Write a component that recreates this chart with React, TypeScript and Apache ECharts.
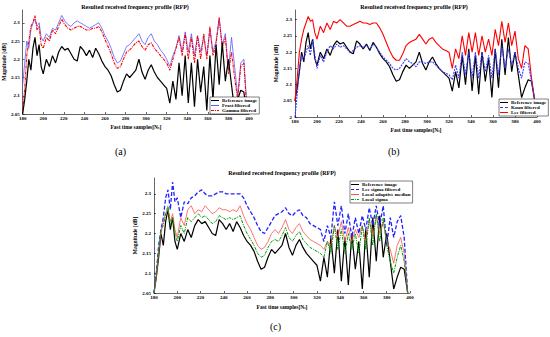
import React, { useEffect, useRef } from "react";
import * as echarts from "echarts";

const samples = [180,182,184,186,188,190,192,194,196,198,200,
203,206,209,212,215,218,221,224,227,230,
233,236,239,242,245,248,251,254,257,260,
263,266,269,272,275,278,281,284,287,290,
293,296,299,302,305,308,311,314,317,320,
323,326,329,332,335,338,341,344,347,350,
353,356,359,362,365,368,371,374,377,380,
383,386,389,392,395,398];

const referenceImage = [2.05,2.09,2.14,2.20,2.17,2.23,2.26,2.21,2.24,2.18,2.16,
2.20,2.18,2.21,2.19,2.22,2.235,2.225,2.23,2.215,2.20,
2.195,2.235,2.225,2.21,2.225,2.205,2.23,2.215,2.195,2.18,
2.17,2.155,2.13,2.11,2.115,2.14,2.16,2.15,2.16,2.17,
2.20,2.165,2.145,2.17,2.185,2.165,2.15,2.14,2.13,2.12,
2.08,2.14,2.09,2.19,2.10,2.21,2.08,2.19,2.07,2.20,
2.11,2.18,2.06,2.21,2.09,2.24,2.13,2.245,2.14,2.20,
2.13,2.06,2.09,2.115,2.11,2.05];

const frostFiltered = [2.13,2.19,2.25,2.23,2.28,2.30,2.31,2.29,2.30,2.26,2.25,
2.27,2.26,2.285,2.28,2.30,2.32,2.305,2.295,2.29,2.30,
2.305,2.30,2.295,2.29,2.285,2.29,2.295,2.30,2.285,2.265,
2.25,2.23,2.205,2.19,2.195,2.215,2.235,2.24,2.25,2.26,
2.27,2.25,2.24,2.26,2.27,2.25,2.24,2.225,2.215,2.20,
2.18,2.21,2.23,2.265,2.22,2.275,2.22,2.27,2.21,2.265,
2.22,2.26,2.21,2.28,2.22,2.25,2.31,2.24,2.27,2.17,
2.26,2.18,2.10,2.19,2.20,2.07];

const gammaFiltered = [2.06,2.12,2.21,2.25,2.29,2.30,2.32,2.28,2.29,2.24,2.23,
2.26,2.25,2.28,2.27,2.29,2.31,2.295,2.285,2.28,2.285,
2.29,2.29,2.285,2.28,2.28,2.285,2.285,2.29,2.275,2.255,
2.235,2.215,2.19,2.175,2.18,2.20,2.22,2.225,2.235,2.245,
2.25,2.235,2.225,2.24,2.245,2.23,2.22,2.21,2.20,2.19,
2.17,2.20,2.23,2.26,2.21,2.27,2.20,2.26,2.19,2.265,
2.20,2.27,2.20,2.29,2.21,2.24,2.315,2.23,2.26,2.16,
2.22,2.15,2.09,2.18,2.19,2.06];

const kuanFiltered = [2.00,2.07,2.15,2.19,2.18,2.20,2.22,2.19,2.24,2.19,2.15,
2.19,2.17,2.20,2.22,2.21,2.225,2.215,2.22,2.21,2.20,
2.205,2.215,2.22,2.215,2.22,2.21,2.225,2.215,2.20,2.185,
2.175,2.165,2.15,2.145,2.15,2.165,2.18,2.17,2.165,2.155,
2.17,2.17,2.165,2.17,2.17,2.16,2.15,2.14,2.135,2.13,
2.115,2.16,2.12,2.20,2.13,2.20,2.12,2.20,2.12,2.20,
2.14,2.19,2.12,2.21,2.13,2.22,2.15,2.21,2.16,2.20,
2.15,2.12,2.17,2.165,2.11,2.05];

const leeFiltered = [2.05,2.12,2.20,2.24,2.27,2.29,2.31,2.295,2.30,2.26,2.24,
2.28,2.26,2.29,2.27,2.295,2.29,2.30,2.29,2.28,2.28,
2.285,2.29,2.295,2.29,2.29,2.285,2.29,2.29,2.275,2.255,
2.23,2.205,2.185,2.175,2.175,2.195,2.22,2.23,2.235,2.24,
2.255,2.24,2.225,2.24,2.245,2.23,2.22,2.21,2.205,2.20,
2.15,2.21,2.18,2.25,2.19,2.26,2.20,2.26,2.19,2.25,
2.20,2.24,2.19,2.27,2.22,2.295,2.23,2.29,2.22,2.265,
2.18,2.15,2.22,2.21,2.12,2.05];

const leeSigmaFiltered = [2.05,2.10,2.17,2.21,2.24,2.29,2.31,2.26,2.33,2.28,2.29,
2.24,2.28,2.275,2.29,2.295,2.305,2.31,2.30,2.295,2.295,
2.30,2.305,2.305,2.30,2.30,2.30,2.30,2.30,2.29,2.27,
2.255,2.24,2.22,2.205,2.20,2.215,2.23,2.245,2.25,2.255,
2.265,2.25,2.245,2.255,2.26,2.245,2.24,2.225,2.22,2.215,
2.21,2.18,2.22,2.19,2.28,2.22,2.27,2.20,2.25,2.19,
2.24,2.20,2.245,2.21,2.265,2.22,2.27,2.22,2.27,2.17,
2.24,2.19,2.23,2.245,2.19,2.05];

const localAdaptiveMedian = [2.05,2.09,2.15,2.20,2.23,2.25,2.26,2.23,2.25,2.21,2.19,
2.24,2.22,2.26,2.27,2.25,2.26,2.255,2.27,2.26,2.25,
2.255,2.265,2.26,2.26,2.255,2.26,2.255,2.27,2.245,2.225,
2.21,2.19,2.17,2.16,2.165,2.18,2.20,2.21,2.20,2.215,
2.235,2.21,2.20,2.215,2.225,2.205,2.195,2.185,2.18,2.175,
2.17,2.16,2.18,2.17,2.22,2.19,2.23,2.18,2.215,2.18,
2.21,2.19,2.22,2.18,2.235,2.19,2.245,2.20,2.23,2.18,
2.16,2.125,2.17,2.19,2.15,2.05];

const localSigma = [2.05,2.10,2.16,2.21,2.22,2.25,2.27,2.22,2.24,2.20,2.18,
2.22,2.20,2.24,2.23,2.24,2.25,2.24,2.245,2.235,2.225,
2.23,2.245,2.24,2.235,2.24,2.235,2.24,2.245,2.22,2.20,
2.185,2.17,2.15,2.14,2.145,2.165,2.18,2.185,2.18,2.195,
2.215,2.19,2.18,2.195,2.205,2.185,2.175,2.165,2.16,2.155,
2.15,2.14,2.18,2.15,2.22,2.16,2.21,2.15,2.20,2.16,
2.20,2.15,2.22,2.16,2.24,2.17,2.25,2.18,2.24,2.17,
2.13,2.10,2.14,2.17,2.13,2.05];

const titleText = "Resulted received frequency profile (RFP)";
const xName = "Fast time samples[N{s|s}]";
const yName = "Magnitude [dB]";
const panelLabels = ["(a)", "(b)", "(c)"];

const FONT = "Liberation Serif";

const ICON_SOLID = "path://M0,0h8v1h-8z";
const ICON_DASH = "path://M0,0h3v1h-3zM5,0h3v1h-3z";
const ICON_DASHDOT = "path://M0,0h3v1h-3zM4,0h1v1h-1zM6,0h2v1h-2z";

function pairs(vals: number[]) {
  return samples.map((x, i) => [x, vals[i]]);
}

export default function App() {
  const ref = useRef<HTMLDivElement>(null);
  useEffect(() => {
    if (!ref.current) return;
    const chart = echarts.init(ref.current, undefined, { renderer: "svg" });
    const axisLabel = { fontSize: 5, fontFamily: FONT, fontWeight: "bold", color: "#000", margin: 3 };
    const mkX = (gi: number, gap: number) => ({
      type: "value", gridIndex: gi, min: 180, max: 400, interval: 20,
      axisLine: { lineStyle: { color: "#000", width: 0.6 } },
      axisTick: { inside: true, length: 2, lineStyle: { color: "#000", width: 0.6 } },
      axisLabel: { ...axisLabel, margin: 2 },
      splitLine: { show: false },
      name: xName, nameLocation: "middle", nameGap: gap,
      nameTextStyle: {
        fontSize: 5.5, fontFamily: FONT, fontWeight: "bold", color: "#000",
        rich: { s: { fontSize: 3.5, fontFamily: FONT, fontWeight: "bold", padding: [3, 0, 0, 0] } },
      },
    });
    const mkY = (gi: number, min: number, max: number, gap: number) => ({
      type: "value", gridIndex: gi, min, max, interval: 0.05,
      axisLine: { show: true, lineStyle: { color: "#000", width: 0.6 } },
      axisTick: { show: true, inside: true, length: 2, lineStyle: { color: "#000", width: 0.6 } },
      axisLabel: { ...axisLabel, showMaxLabel: false, formatter: (v: number) => String(Math.round(v * 100) / 100) },
      splitLine: { show: false },
      name: yName, nameLocation: "middle", nameGap: gap, nameRotate: 90,
      nameTextStyle: { fontSize: 5.5, fontFamily: FONT, fontWeight: "bold", color: "#000" },
    });
    const line = (name: string, vals: number[], gi: number, color: string, width: number, type: any, z = 2) => ({
      type: "line", name, xAxisIndex: gi, yAxisIndex: gi, data: pairs(vals),
      symbol: "none", showSymbol: false, z,
      lineStyle: { color, width, type }, itemStyle: { color },
    });
    const legendBase = {
      orient: "vertical", itemGap: 0, itemWidth: 8, itemHeight: 5, padding: [1, 2, 1, 1],
      borderColor: "#000", borderWidth: 0.5, backgroundColor: "#fff",
      textStyle: { fontSize: 5, fontFamily: FONT, fontWeight: "bold", color: "#000", padding: [0, 0, 0, -2] },
    };
    const titleStyle = { fontSize: 6, fontFamily: FONT, fontWeight: "bold", color: "#000" };
    chart.setOption({
      animation: false,
      backgroundColor: "#fff",
      title: [
        { text: titleText, left: 135, top: 4, textAlign: "center", padding: 0, textStyle: titleStyle },
        { text: titleText, left: 414, top: 4, textAlign: "center", padding: 0, textStyle: titleStyle },
        { text: titleText, left: 282, top: 170, textAlign: "center", padding: 0, textStyle: titleStyle },
      ],
      grid: [
        { left: 20, top: 10, width: 229, height: 104 },
        { left: 295, top: 10, width: 242, height: 107 },
        { left: 154, top: 178, width: 256, height: 115 },
      ],
      xAxis: [mkX(0, 9), mkX(1, 9), mkX(2, 10)],
      yAxis: [mkY(0, 2.05, 2.335, 12), mkY(1, 2.0, 2.33, 10), mkY(2, 2.05, 2.34, 15)],
      legend: [
        { ...legendBase, left: 210, top: 97, data: [
          { name: "Reference image", icon: ICON_SOLID },
          { name: "Frost filtered", icon: ICON_SOLID },
          { name: "Gamma filtered", icon: ICON_DASHDOT },
        ] },
        { ...legendBase, left: 499, top: 99, data: [
          { name: "Reference image", icon: ICON_SOLID },
          { name: "Kuan filtered", icon: ICON_DASH },
          { name: "Lee filtered", icon: ICON_SOLID },
        ] },
        { ...legendBase, left: 350, top: 181, data: [
          { name: "Reference image", icon: ICON_SOLID },
          { name: "Lee sigma filtered", icon: ICON_DASH },
          { name: "Local adaptive median", icon: ICON_SOLID },
          { name: "Local sigma", icon: ICON_DASHDOT },
        ] },
      ],
      series: [
        line("Reference image", referenceImage, 0, "#000", 1.2, "solid", 3),
        line("Frost filtered", frostFiltered, 0, "#5a5aff", 0.8, "solid"),
        line("Gamma filtered", gammaFiltered, 0, "#ff0000", 1.1, [3, 1, 1, 1]),
        line("Reference image", referenceImage, 1, "#000", 1.2, "solid", 2),
        line("Kuan filtered", kuanFiltered, 1, "#3a3aff", 1.1, [2, 1], 3),
        line("Lee filtered", leeFiltered, 1, "#ff0000", 1.1, "solid"),
        line("Reference image", referenceImage, 2, "#000", 1.2, "solid", 2),
        line("Lee sigma filtered", leeSigmaFiltered, 2, "#2222ff", 1.3, [4, 2]),
        line("Local adaptive median", localAdaptiveMedian, 2, "#ff5050", 0.8, "solid"),
        line("Local sigma", localSigma, 2, "#009900", 1.0, [3, 1, 1, 1], 3),
      ],
      graphic: [
        { type: "text", left: 115, top: 146, style: { text: panelLabels[0], fontSize: 10, fontFamily: FONT, fill: "#000" } },
        { type: "text", left: 388, top: 146, style: { text: panelLabels[1], fontSize: 10, fontFamily: FONT, fill: "#000" } },
        { type: "text", left: 270, top: 321, style: { text: panelLabels[2], fontSize: 10, fontFamily: FONT, fill: "#000" } },
      ],
    } as any);
    return () => chart.dispose();
  }, []);
  return <div ref={ref} style={{ position: "fixed", left: 0, top: 0, width: 550, height: 337 }} />;
}
